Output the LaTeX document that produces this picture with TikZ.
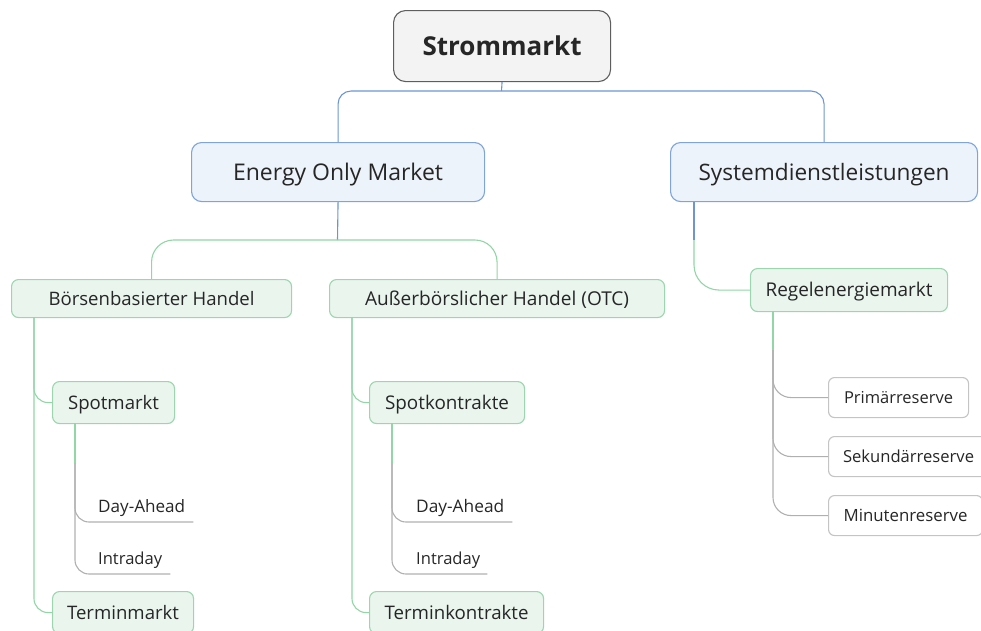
\documentclass[tikz,border=0pt]{standalone}
\usepackage{fontspec}
\usepackage{graphicx}
\setmainfont{Open Sans}
\definecolor{txt}{HTML}{262626}
\definecolor{rootfill}{HTML}{F3F3F3}
\definecolor{rootdraw}{HTML}{5E5E5E}
\definecolor{bluefill}{HTML}{EDF3FB}
\definecolor{bluedraw}{HTML}{7FA4DA}
\definecolor{blueline}{HTML}{6C96D2}
\definecolor{greenfill}{HTML}{EAF5EE}
\definecolor{greendraw}{HTML}{9CD6AE}
\definecolor{greenline}{HTML}{92D5A7}
\definecolor{grayline}{HTML}{B0B0B0}
\definecolor{graydraw}{HTML}{C4C4C4}
\newcommand\fit[2]{\resizebox{#1pt}{!}{\fontsize{20}{20}\selectfont\rule{0pt}{14.28pt}\smash{#2}}}
\tikzset{
  box/.style={rectangle, anchor=north west, inner sep=0pt, text=txt, line width=1.1pt},
  rootbox/.style={box, fill=rootfill, draw=rootdraw, rounded corners=12pt},
  bluebox/.style={box, fill=bluefill, draw=bluedraw, rounded corners=10pt},
  greenbox/.style={box, fill=greenfill, draw=greendraw, rounded corners=7pt},
  graybox/.style={box, fill=white, draw=graydraw, rounded corners=6pt},
  leaf/.style={rectangle, anchor=south west, inner sep=0pt, text=txt, align=left, text depth=9.5pt},
  bl/.style={draw=blueline, line width=1.1pt},
  gl/.style={draw=greenline, line width=1.1pt},
  yl/.style={draw=grayline, line width=1.1pt},
}
\begin{document}
\begin{tikzpicture}[x=1pt,y=-1pt]
\useasboundingbox (0,0) rectangle (981,630);
\clip (0,0) rectangle (981,630);
% junction coordinates
\coordinate (rj) at (501.5,91);
\coordinate (ej) at (337.5,240);
\coordinate (sj) at (694,240);
\coordinate (bv) at (34,317);
\coordinate (av) at (352,317);
\coordinate (sv) at (75,423);
\coordinate (kv) at (392,423);
\coordinate (rv) at (773,311);
\coordinate (sg) at (75,463);
\coordinate (kg) at (392,463);
\coordinate (rg) at (773,350);
% nodes
\node[rootbox, minimum width=217pt, minimum height=71pt] (root) at (393,10) {\fit{159}{\bfseries Strommarkt}};
\node[bluebox, minimum width=293pt, minimum height=59pt] (eom) at (191,142) {\fit{210}{Energy Only Market}};
\node[bluebox, minimum width=307pt, minimum height=59pt] (sys) at (670,142) {\fit{251}{Systemdienstleistungen}};
\node[greenbox, minimum width=280pt, minimum height=38pt] (bh) at (11,279) {\fit{206}{Börsenbasierter Handel}};
\node[greenbox, minimum width=335pt, minimum height=38pt] (ah) at (329,279) {\fit{264}{Außerbörslicher Handel (OTC)}};
\node[greenbox, minimum width=197pt, minimum height=43pt] (rm) at (750,268) {\fit{167}{Regelenergiemarkt}};
\node[greenbox, minimum width=122pt, minimum height=42pt] (sm) at (52,381) {\fit{91}{Spotmarkt}};
\node[greenbox, minimum width=155pt, minimum height=42pt] (sk) at (369,381) {\fit{124}{Spotkontrakte}};
\node[greenbox, minimum width=141pt, minimum height=42pt] (tm) at (52,591) {\fit{112}{Terminmarkt}};
\node[greenbox, minimum width=174pt, minimum height=42pt] (tk) at (369,591) {\fit{144}{Terminkontrakte}};
\node[graybox, minimum width=140pt, minimum height=40pt] (pr) at (828,377) {\fit{109}{Primärreserve}};
\node[graybox, minimum width=160pt, minimum height=40pt] (sr) at (828,436) {\fit{131}{Sekundärreserve}};
\node[graybox, minimum width=154pt, minimum height=40pt] (mr) at (828,495) {\fit{124}{Minutenreserve}};
\node[leaf, text width=95pt] (da1) at (98,522) {\fit{87}{Day-Ahead}};
\node[leaf, text width=72pt] (id1) at (98,574) {\fit{64}{Intraday}};
\node[leaf, text width=96pt] (da2) at (416,522) {\fit{88}{Day-Ahead}};
\node[leaf, text width=71pt] (id2) at (416,574) {\fit{64}{Intraday}};
% connectors
\draw[bl] (root.south) -- (rj);
\draw[bl, rounded corners=13pt] (eom.north) |- (rj) -| (sys.north);
\draw[bl] (eom.south) -- (ej);
\draw[gl, rounded corners=22pt] (bh.north) |- (ej) -| (ah.north);
\draw[bl] (sj |- sys.south) -- (sj);
\draw[gl, rounded corners=25pt] (sj) |- (rm.west);
\draw[gl, rounded corners=14pt] (bv) |- (sm.west);
\draw[gl, rounded corners=14pt] (bv) |- (tm.west);
\draw[gl, rounded corners=14pt] (av) |- (sk.west);
\draw[gl, rounded corners=14pt] (av) |- (tk.west);
\draw[gl] (sv) -- (sg);
\draw[gl] (kv) -- (kg);
\draw[gl] (rv) -- (rg);
\draw[yl, rounded corners=14pt] (sg) |- (da1.south east);
\draw[yl, rounded corners=14pt] (sg) |- (id1.south east);
\draw[yl, rounded corners=14pt] (kg) |- (da2.south east);
\draw[yl, rounded corners=14pt] (kg) |- (id2.south east);
\draw[yl, rounded corners=18pt] (rg) |- (pr.west);
\draw[yl, rounded corners=18pt] (rg) |- (sr.west);
\draw[yl, rounded corners=18pt] (rg) |- (mr.west);
\end{tikzpicture}
\end{document}
